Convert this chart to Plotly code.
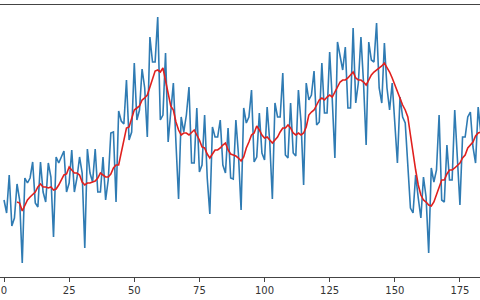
import plotly.graph_objects as go

values = [100, 87, 125, 74, 82, 116, 100, 37, 122, 117, 122, 138, 97, 93, 138, 108, 98, 137, 123, 63,
          143, 137, 143, 149, 108, 117, 150, 108, 122, 143, 127, 52, 151, 127, 118, 151, 108, 108, 143, 100,
          120, 167, 168, 98, 189, 179, 176, 220, 160, 168, 237, 180, 190, 231, 212, 163, 263, 238, 238, 283,
          180, 185, 247, 158, 188, 217, 157, 101, 183, 168, 185, 213, 137, 137, 192, 128, 135, 185, 122, 86,
          173, 163, 163, 180, 135, 127, 172, 122, 121, 180, 145, 90, 192, 177, 183, 210, 138, 143, 187, 147,
          140, 193, 158, 101, 197, 183, 183, 227, 145, 142, 197, 147, 144, 210, 178, 115, 217, 200, 205, 229,
          175, 178, 237, 187, 187, 248, 200, 142, 258, 243, 230, 253, 192, 192, 272, 197, 217, 263, 217, 155,
          258, 240, 238, 277, 212, 197, 257, 212, 190, 217, 175, 137, 203, 183, 177, 133, 92, 87, 125, 102,
          82, 123, 103, 47, 132, 118, 130, 185, 100, 98, 155, 120, 120, 190, 143, 95, 163, 163, 183, 188,
          153, 137, 193, 167]
x_values = list(range(len(values)))

smooth_start = 5
smooth = [98, 97, 89, 94, 100, 103, 106, 108, 113, 116, 113, 113, 112, 113, 110,
          111, 115, 120, 125, 126, 133, 130, 127, 127, 125, 118, 115, 117, 117, 118, 119, 122, 127, 125, 123,
          123, 126, 132, 135, 135, 147, 160, 172, 173, 182, 190, 192, 194, 200, 202, 205, 213, 221, 229, 230,
          228, 232, 220, 207, 194, 190, 178, 170, 165, 167, 167, 165, 168, 170, 165, 160, 153, 152, 146, 142,
          146, 150, 150, 152, 155, 157, 150, 146, 145, 144, 142, 139, 143, 152, 158, 165, 167, 174, 170, 165,
          162, 163, 160, 157, 160, 163, 168, 172, 172, 175, 172, 167, 165, 167, 165, 167, 173, 185, 188, 190,
          195, 200, 202, 200, 203, 205, 203, 208, 213, 218, 220, 220, 222, 225, 228, 222, 220, 220, 218, 215,
          220, 225, 228, 230, 232, 234, 237, 233, 228, 222, 215, 210, 203, 195, 190, 183, 165, 145, 130, 115,
          105, 100, 98, 95, 94, 98, 105, 114, 120, 120, 126, 130, 130, 132, 135, 137, 142, 145, 152, 155,
          158, 164, 167, 168]
smooth_x = list(range(smooth_start, smooth_start + len(smooth)))

tick_vals = [0, 25, 50, 75, 100, 125, 150, 175]
tick_text = ["0", "25", "50", "75", "100", "125", "150", "175"]

fig = go.Figure()
fig.add_trace(go.Scatter(x=x_values, y=values, mode="lines",
                         line=dict(color="#2f7bb3", width=1.6), showlegend=False))
fig.add_trace(go.Scatter(x=smooth_x, y=smooth, mode="lines",
                         line=dict(color="#e0201e", width=1.6), showlegend=False))

fig.update_layout(
    width=480, height=300,
    margin=dict(l=0, r=0, t=5, b=23),
    paper_bgcolor="white", plot_bgcolor="white",
    font=dict(family="DejaVu Sans", size=10, color="#333333"),
    xaxis=dict(range=[-1.54, 182.7], tickvals=tick_vals, ticktext=tick_text,
               showgrid=False, zeroline=False, showline=True, mirror=True,
               linecolor="#444444", linewidth=1, ticks="outside", ticklen=4,
               tickcolor="#444444", tickfont=dict(size=10, color="#333333")),
    yaxis=dict(range=[23, 295], showgrid=False, zeroline=False, showline=False,
               showticklabels=False, ticks=""),
)

fig.write_html("out.html")
